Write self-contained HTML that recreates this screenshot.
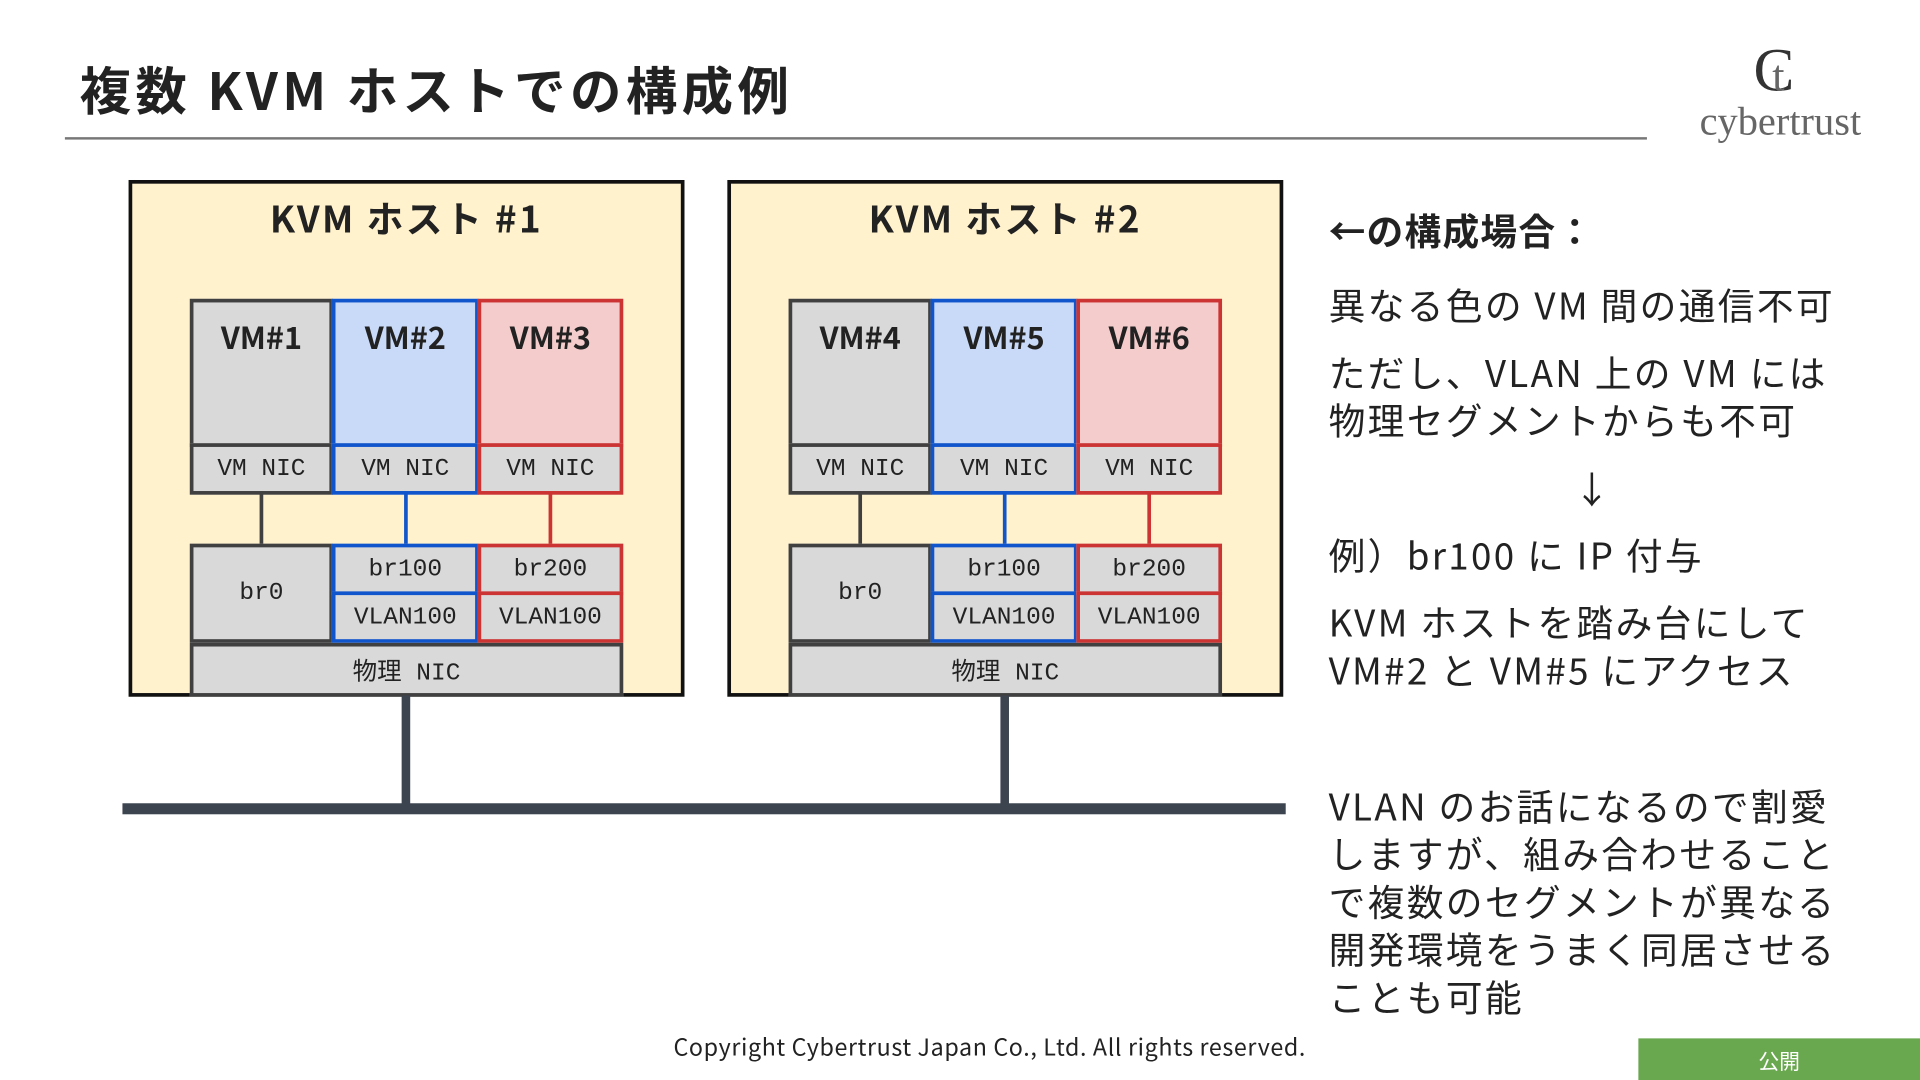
<!DOCTYPE html>
<html><head><meta charset="utf-8"><style>
html,body{margin:0;padding:0;background:#fff;overflow:hidden}
#w{width:1568px;height:882px;position:relative;transform:scale(1.22449);transform-origin:0 0;font-family:"Noto Sans CJK JP","Liberation Sans",sans-serif;color:#222}
.a{position:absolute;box-sizing:border-box}
.mono{font-family:"Liberation Mono","DejaVu Sans Mono","Noto Sans CJK JP",monospace;font-size:20px;display:flex;align-items:center;justify-content:center;background:#d9d9d9}
.vm{font-weight:bold;font-size:25px;display:flex;justify-content:center;padding-top:10px}
.g{background:#d9d9d9;border:3px solid #404040}
.b{border:3px solid #1155cc}
.r{border:3px solid #cc3333}
.vm.b{background:#c9daf8}
.vm.r{background:#f4cccc}
.t{position:absolute;left:1085px;font-size:30px;line-height:39px;color:#222;white-space:nowrap;letter-spacing:1.9px}
</style></head><body><div id="w">
<div class="a" style="left:65px;top:42px;font-size:42px;font-weight:bold;white-space:nowrap;letter-spacing:3.6px">複数 KVM ホストでの構成例</div>
<div class="a" style="left:53px;top:112px;width:1292px;height:2px;background:#777"></div>
<div class="a" style="left:1432px;top:28px;font-family:'Liberation Serif',serif;font-size:50px;color:#333">C<span style="font-size:36px;margin-left:-18px;color:#666">t</span></div>
<div class="a" style="left:1388px;top:82px;font-family:'Liberation Serif',serif;font-size:33px;color:#666">cybertrust</div>

<div id="h1"></div>

<div class="a" style="left:328px;top:568px;width:7px;height:92px;background:#3c4450"></div>
<div class="a" style="left:817px;top:568px;width:7px;height:92px;background:#3c4450"></div>
<div class="a" style="left:100px;top:656px;width:950px;height:9px;background:#3c4450"></div>

<div class="t" style="top:168px;font-weight:bold;letter-spacing:1px">←の構成場合：</div>
<div class="t" style="top:229px">異なる色の VM 間の通信不可</div>
<div class="t" style="top:284px">ただし、VLAN 上の VM には<br>物理セグメントからも不可</div>
<div class="t" style="top:379px;left:1285px">↓</div>
<div class="t" style="top:433px">例）br100 に IP 付与</div>
<div class="t" style="top:488px">KVM ホストを踏み台にして<br>VM#2 と VM#5 にアクセス</div>
<div class="t" style="top:638px">VLAN のお話になるので割愛<br>しますが、組み合わせること<br>で複数のセグメントが異なる<br>開発環境をうまく同居させる<br>ことも可能</div>

<div class="a" style="left:550px;top:841px;font-size:19px;white-space:nowrap;letter-spacing:0.5px">Copyright Cybertrust Japan Co., Ltd. All rights reserved.</div>
<div class="a" style="left:1338px;top:848px;width:230px;height:34px;background:#6aa84f;color:#fff;font-size:17px;display:flex;align-items:center;justify-content:center">公開</div>
</div>
<script>
function host(dx,n,vms){
 var s='<div class="a" style="left:'+(105+dx)+'px;top:147px;width:454px;height:422px;background:#fff2cc;border:3px solid #111"></div>';
 s+='<div class="a" style="left:'+(105+dx)+'px;top:155px;width:454px;text-align:center;font-size:30px;font-weight:bold;letter-spacing:2px">KVM ホスト #'+n+'</div>';
 var xs=[155,271,390],ws=[117,120,119],c=['g','b','r'],lc=['#404040','#1155cc','#cc3333'];
 for(var i=0;i<3;i++){var x=xs[i]+dx;
  s+='<div class="a vm '+c[i]+'" style="left:'+x+'px;top:244px;width:'+ws[i]+'px;height:121px">'+vms[i]+'</div>';
  s+='<div class="a mono '+c[i]+'" style="left:'+x+'px;top:362px;width:'+ws[i]+'px;height:42px">VM NIC</div>';
  s+='<div class="a" style="left:'+(x+ws[i]/2-1.5)+'px;top:403px;width:3px;height:42px;background:'+lc[i]+'"></div>';
  if(i==0) s+='<div class="a mono g" style="left:'+x+'px;top:444px;width:'+ws[i]+'px;height:81px">br0</div>';
  else{s+='<div class="a mono '+c[i]+'" style="left:'+x+'px;top:444px;width:'+ws[i]+'px;height:42px">'+(i==1?'br100':'br200')+'</div>';
   s+='<div class="a mono '+c[i]+'" style="left:'+x+'px;top:483px;width:'+ws[i]+'px;height:42px">VLAN100</div>';}
 }
 s+='<div class="a mono g" style="left:'+(155+dx)+'px;top:525px;width:354px;height:44px">物理 NIC</div>';
 return s;
}
document.getElementById('h1').outerHTML=host(0,1,['VM#1','VM#2','VM#3'])+host(489,2,['VM#4','VM#5','VM#6']);
</script>
</body></html>
